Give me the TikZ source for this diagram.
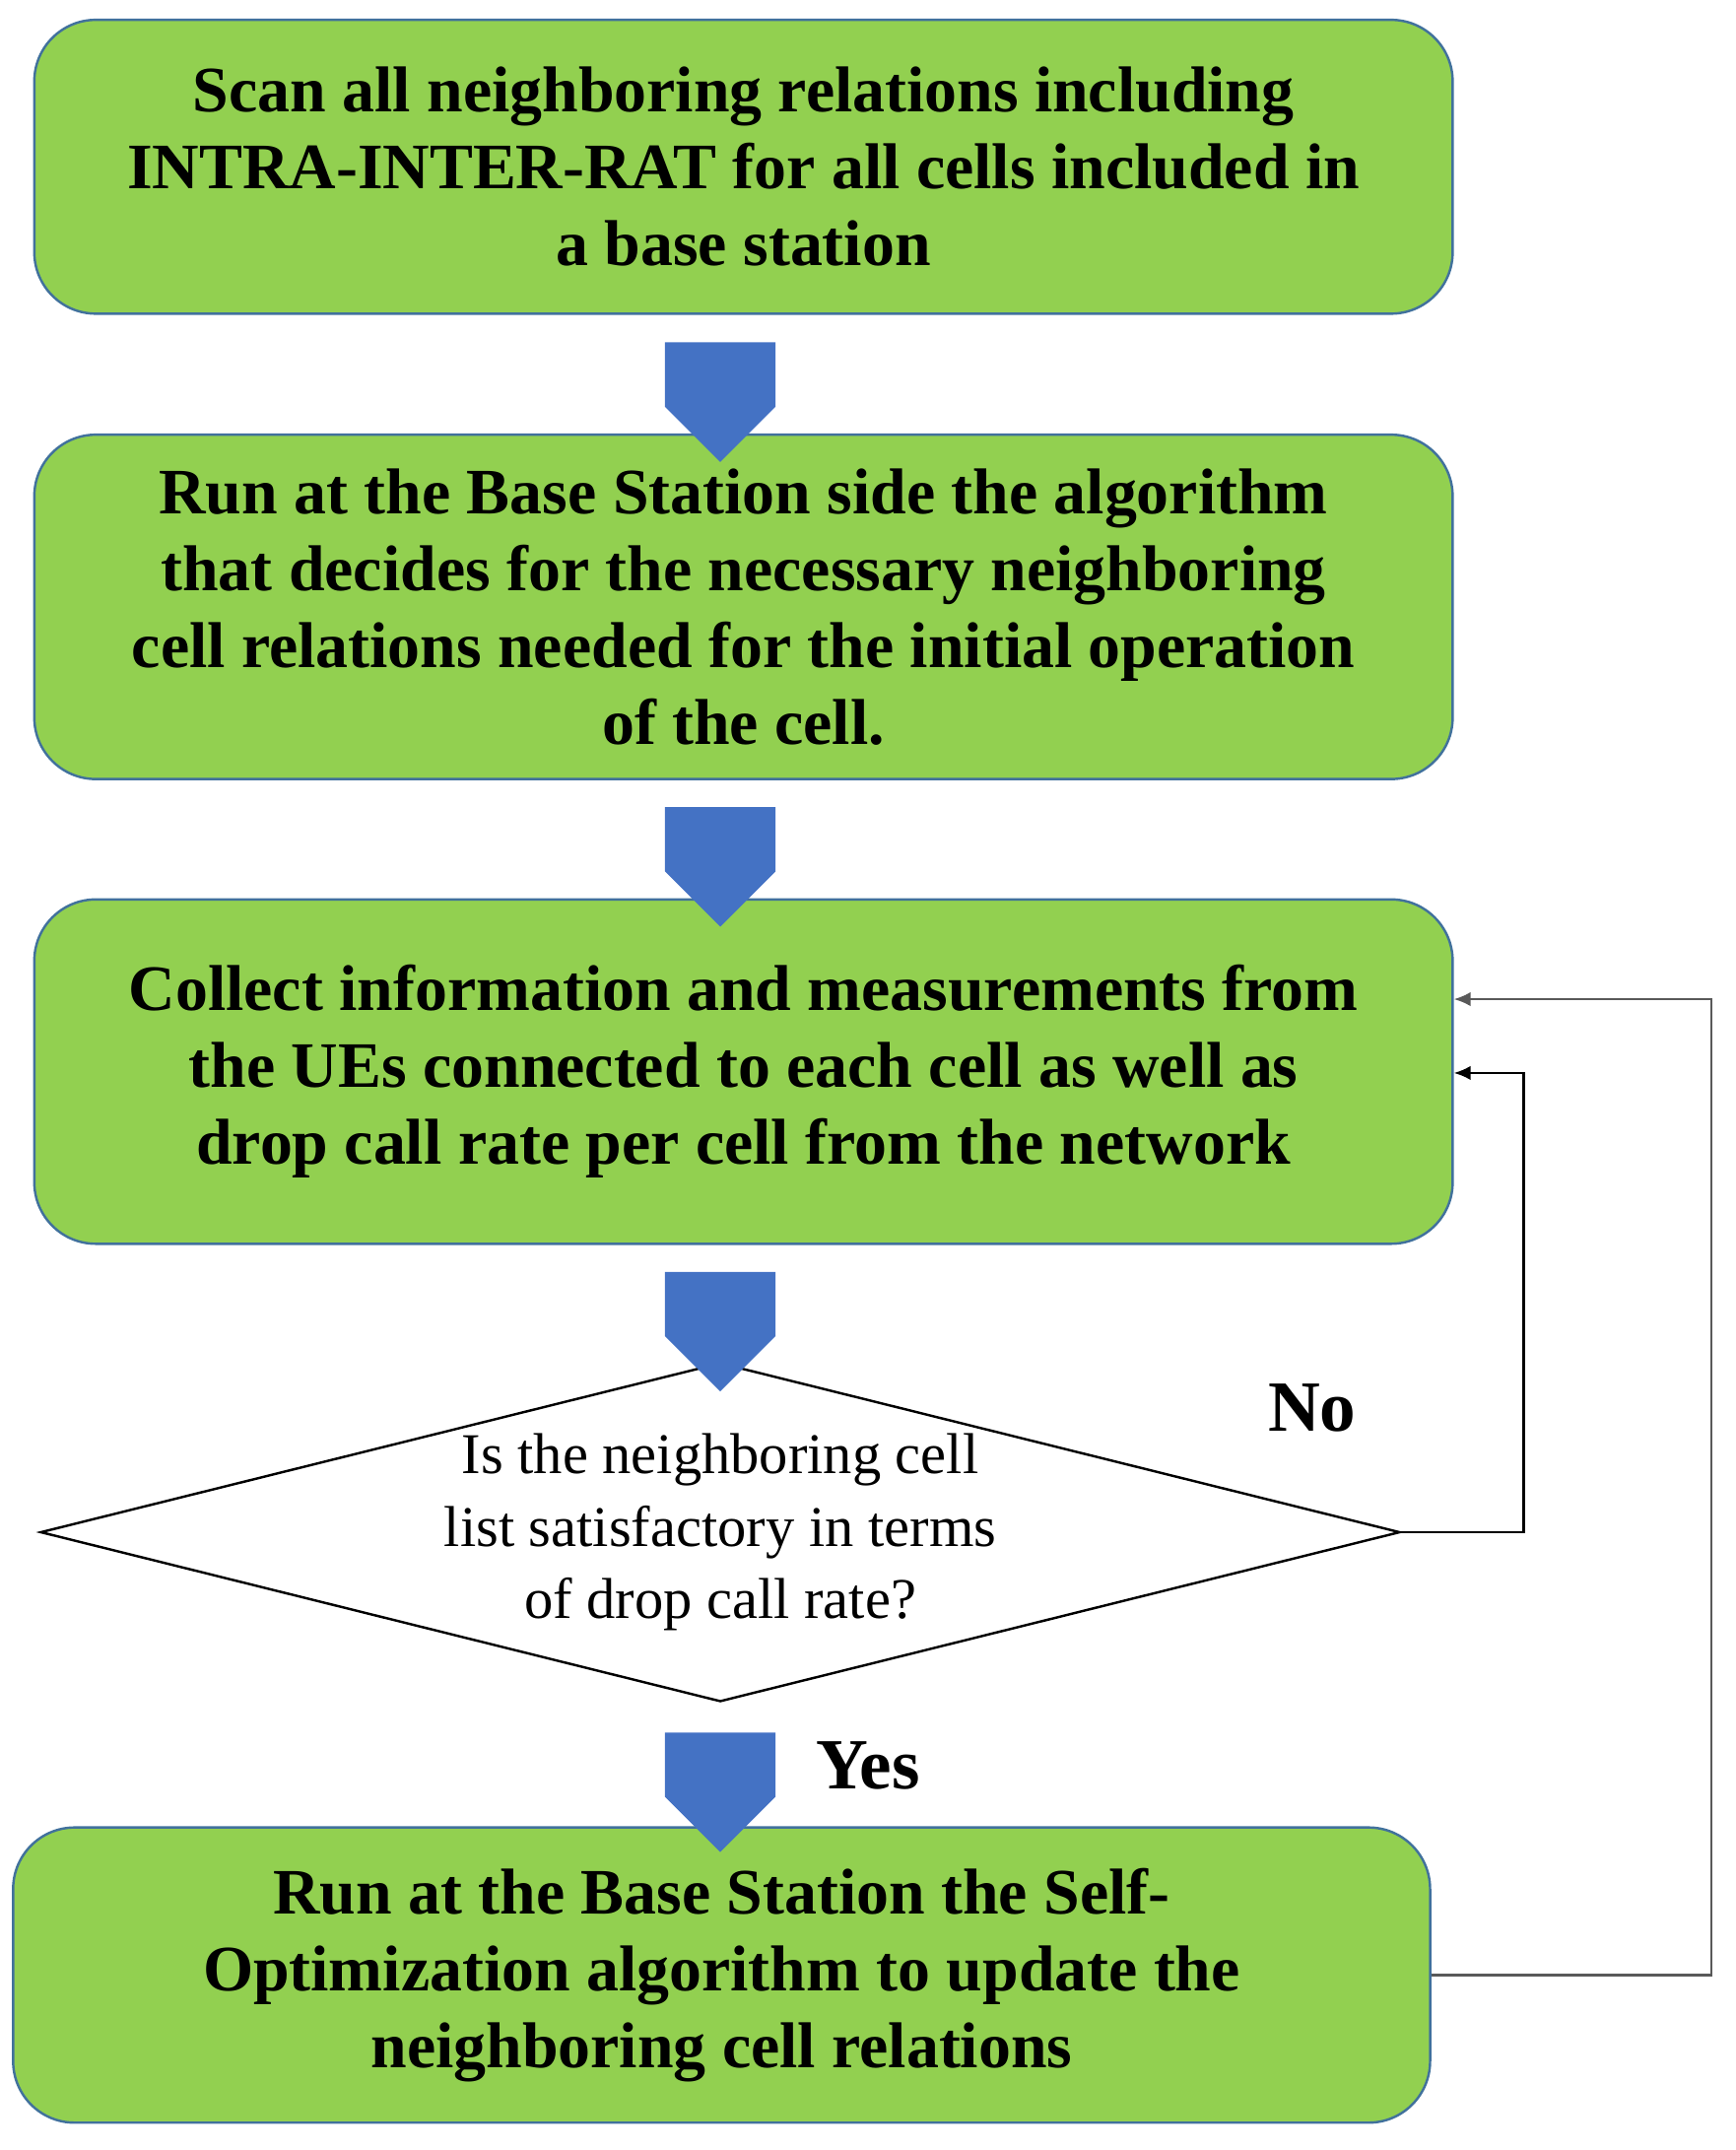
\documentclass[tikz,border=0pt]{standalone}
\usepackage{fontspec}
\setmainfont{Liberation Serif}
\usetikzlibrary{shapes.geometric,arrows.meta,shapes.arrows}
\definecolor{boxg}{HTML}{92D050}
\definecolor{boxb}{HTML}{41719C}
\definecolor{arrb}{HTML}{4472C4}
\begin{document}
\begin{tikzpicture}[x=0.02cm,y=-0.02cm,
  box/.style={draw=boxb,line width=1pt,fill=boxg,rounded corners=0.9cm,align=center,
    font=\fontsize{27}{32}\selectfont\bfseries,inner sep=0pt},
  blk/.style={single arrow,draw=none,fill=arrb,shape border rotate=270,minimum width=1.62cm,
    single arrow head extend=0cm,single arrow tip angle=90,inner sep=0pt,minimum height=1.75cm,
    single arrow head indent=0pt},
  fb/.style={draw=black,line width=1pt,-{Latex[length=7pt,width=6pt]}}]
\useasboundingbox (0,0) rectangle (1270,1573);
\node[box,minimum width=20.76cm,minimum height=4.3cm] (b1) at (544,122) {Scan all neighboring relations including\\INTRA-INTER-RAT for all cells included in\\a base station};
\node[box,minimum width=20.76cm,minimum height=5.04cm] (b2) at (544,444) {Run at the Base Station side the algorithm\\that decides for the necessary neighboring\\cell relations needed for the initial operation\\of the cell.};
\node[box,minimum width=20.76cm,minimum height=5.04cm] (b3) at (544,784) {Collect information and measurements from\\the UEs connected to each cell as well as\\drop call rate per cell from the network};
\node[diamond,draw=black,line width=1pt,aspect=4,minimum width=19.9cm,minimum height=4.96cm,inner sep=0pt,align=center,
  font=\fontsize{24}{30}\selectfont] (d) at (527,1121) {};
\node[align=center,font=\fontsize{24}{30}\selectfont] (dt) at (527,1121) {Is the neighboring cell\\list satisfactory in terms\\of drop call rate?};
\node[box,minimum width=20.74cm,minimum height=4.32cm] (b5) at (528,1445) {Run at the Base Station the Self-\\Optimization algorithm to update the\\neighboring cell relations};
\node[blk] (a1) at (527,274) {};
\node[blk] (a2) at (527,614) {};
\node[blk] (a3) at (527,954) {};
\node[blk] (a4) at (527,1291) {};
\node[font=\fontsize{30}{34}\selectfont\bfseries] (no) at (960,1030) {No};
\node[font=\fontsize{30}{34}\selectfont\bfseries] (yes) at (635,1292) {Yes};
\coordinate (c1) at (1115,1121);
\coordinate (c2) at (1115,785);
\coordinate (c3) at (1252,1445);
\coordinate (c4) at (1252,731);
\draw[fb] (d.east) -- (c1) -- (c2) -- (b3.east |- c2);
\draw[fb,draw=black!65] (b5.east) -- (c3) -- (c4) -- (b3.east |- c4);
\end{tikzpicture}
\end{document}
